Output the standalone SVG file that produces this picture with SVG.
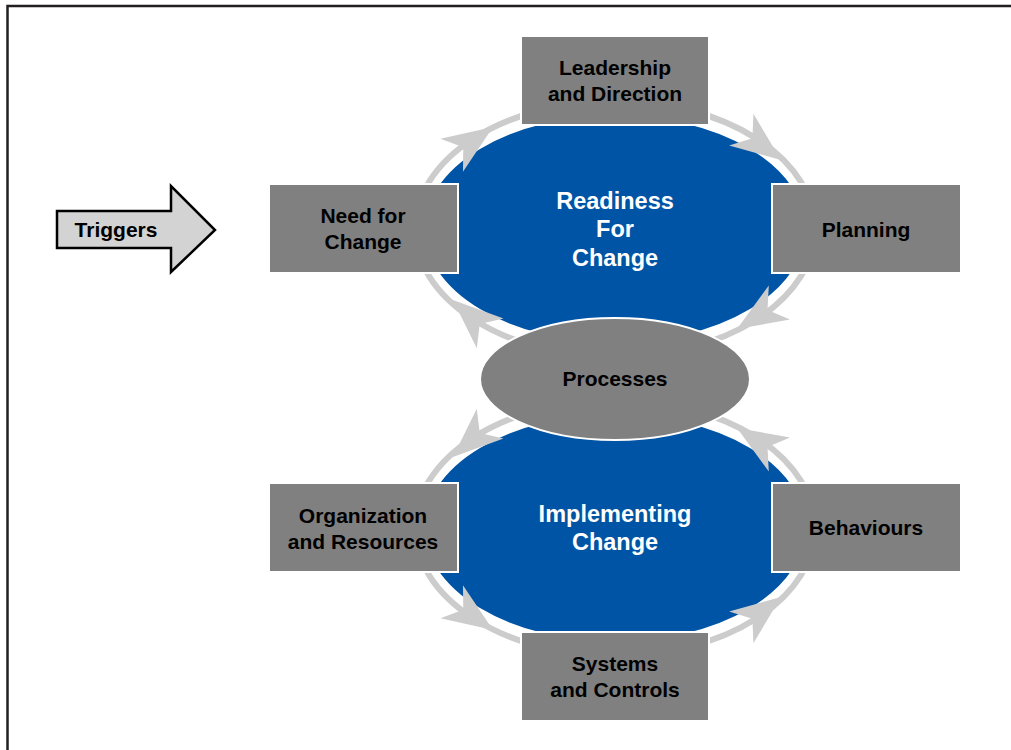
<svg xmlns="http://www.w3.org/2000/svg" xmlns:xlink="http://www.w3.org/1999/xlink" width="1011" height="750" viewBox="0 0 1011 750">
<style>
.box{fill:#808080;stroke:#ffffff;stroke-width:2}
.lbl{font-family:"Liberation Sans",Arial,sans-serif;font-weight:bold;font-size:21px;fill:#000;text-anchor:middle}
.big{font-family:"Liberation Sans",Arial,sans-serif;font-weight:bold;font-size:23.5px;fill:#fff;text-anchor:middle}
.blue{fill:#0054a5;stroke:#ffffff;stroke-width:3}
.ring{fill:none;stroke:#cccccc;stroke-width:6}
</style>
<defs>
<path id="ah" d="M0,0 L-50,-20 L-36,0 L-50,20 Z" fill="#cccccc"/>
</defs>
<rect x="0" y="0" width="1011" height="750" fill="#ffffff"/>
<rect x="7.5" y="6" width="1100" height="800" fill="none" stroke="#231f20" stroke-width="2.5"/>

<g id="connectors">
<g id="ring-top">
<ellipse class="ring" cx="615" cy="229" rx="200" ry="128"/>
</g>
<g id="ring-bottom">
<ellipse class="ring" cx="615" cy="528" rx="200" ry="128"/>
</g>
</g>

<g id="readiness">
<ellipse class="blue" cx="615" cy="229" rx="192" ry="115"/>
<text class="big" x="615" y="209">Readiness</text>
<text class="big" x="615" y="237">For</text>
<text class="big" x="615" y="266">Change</text>
</g>
<g id="implementing">
<ellipse class="blue" cx="615" cy="528" rx="192" ry="115"/>
<text class="big" x="615" y="522">Implementing</text>
<text class="big" x="615" y="550">Change</text>
</g>

<g id="arrowheads">
<g id="arrows-top">
<use xlink:href="#ah" transform="translate(493,127) rotate(-34.3)"/>
<use xlink:href="#ah" transform="translate(781,160) rotate(37.4)"/>
<use xlink:href="#ah" transform="translate(737,329) rotate(148)"/>
<use xlink:href="#ah" transform="translate(453,300) rotate(222)"/>
</g>
<g id="arrows-bottom" transform="translate(0,757) scale(1,-1)">
<use xlink:href="#ah" transform="translate(493,127) rotate(-34.3)"/>
<use xlink:href="#ah" transform="translate(781,160) rotate(37.4)"/>
<use xlink:href="#ah" transform="translate(737,329) rotate(148)"/>
<use xlink:href="#ah" transform="translate(453,300) rotate(222)"/>
</g>
</g>

<g id="processes">
<ellipse cx="615" cy="379" rx="135" ry="61" fill="#808080" stroke="#ffffff" stroke-width="2"/>
<text class="lbl" x="615" y="386">Processes</text>
</g>

<g id="leadership">
<rect class="box" x="521" y="36" width="188" height="89"/>
<text class="lbl" x="615" y="75">Leadership</text>
<text class="lbl" x="615" y="101">and Direction</text>
</g>
<g id="need">
<rect class="box" x="269" y="184" width="189" height="89"/>
<text class="lbl" x="363" y="223">Need for</text>
<text class="lbl" x="363" y="249">Change</text>
</g>
<g id="planning">
<rect class="box" x="772" y="184" width="189" height="89"/>
<text class="lbl" x="866" y="237">Planning</text>
</g>
<g id="organization">
<rect class="box" x="269" y="483" width="189" height="89"/>
<text class="lbl" x="363" y="523">Organization</text>
<text class="lbl" x="363" y="549">and Resources</text>
</g>
<g id="behaviours">
<rect class="box" x="772" y="483" width="189" height="89"/>
<text class="lbl" x="866" y="535">Behaviours</text>
</g>
<g id="systems">
<rect class="box" x="521" y="632" width="188" height="89"/>
<text class="lbl" x="615" y="671">Systems</text>
<text class="lbl" x="615" y="697">and Controls</text>
</g>

<g id="triggers">
<path d="M57,211 L171,211 L171,186 L215,230 L171,272 L171,248 L57,248 Z" fill="#d3d3d3" stroke="#000" stroke-width="2.5" stroke-linejoin="miter"/>
<text class="lbl" x="116" y="237">Triggers</text>
</g>
</svg>
